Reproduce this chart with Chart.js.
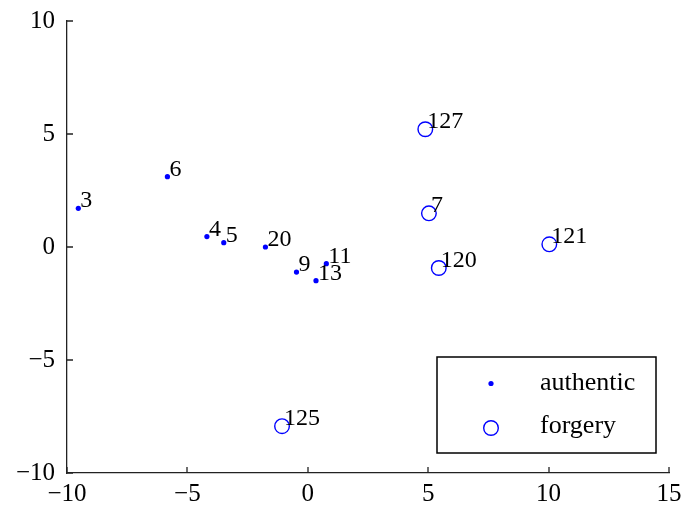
<!DOCTYPE html>
<html>
<head>
<meta charset="utf-8">
<script src="https://cdn.jsdelivr.net/npm/chart.js@4/dist/chart.umd.min.js"></script>
<style>
  html, body { margin: 0; padding: 0; background: #fff; }
  canvas { display: block; }
</style>
</head>
<body>
<canvas id="c" width="684" height="511"></canvas>
<script>
// ---- data ----
const authenticIds = ['3', '6', '4', '5', '20', '9', '11', '13'];
const authenticX = [-9.53, -5.83, -4.19, -3.49, -1.76, -0.47, 0.77, 0.34];
const authenticY = [1.71, 3.11, 0.46, 0.19, 0.00, -1.11, -0.74, -1.49];

const forgeryIds = ['127', '7', '121', '120', '125'];
const forgeryX = [4.88, 5.03, 10.03, 5.44, -1.07];
const forgeryY = [5.21, 1.49, 0.12, -0.93, -7.93];

const seriesNames = ['authentic', 'forgery'];
const xTicks = [-10, -5, 0, 5, 10, 15];
const yTicks = [-10, -5, 0, 5, 10];

const FONT = '"Liberation Serif", "Times New Roman", serif';
const BLUE = '#0000ff';

function toPoints(xs, ys) { return xs.map((x, i) => ({ x: x, y: ys[i] })); }
function fmt(v) { return String(v).replace('-', '\u2212'); }

const extras = {
  id: 'extras',
  afterDatasetsDraw(chart) {
    const ctx = chart.ctx;
    const xs = chart.scales.x, ys = chart.scales.y;
    const area = chart.chartArea;
    ctx.save();
    // inward tick marks
    ctx.strokeStyle = '#222';
    ctx.lineWidth = 1.3;
    ctx.beginPath();
    xTicks.forEach(v => {
      const px = Math.round(xs.getPixelForValue(v));
      ctx.moveTo(px, area.bottom);
      ctx.lineTo(px, area.bottom - 6);
    });
    yTicks.forEach(v => {
      const py = Math.round(ys.getPixelForValue(v));
      ctx.moveTo(area.left, py);
      ctx.lineTo(area.left + 6, py);
    });
    ctx.stroke();

    // point labels
    ctx.fillStyle = '#000';
    ctx.font = '24px ' + FONT;
    ctx.textAlign = 'left';
    ctx.textBaseline = 'alphabetic';
    const drawLabels = (dsIndex, ids) => {
      const meta = chart.getDatasetMeta(dsIndex);
      meta.data.forEach((el, i) => {
        ctx.fillText(ids[i], el.x + 2, el.y - 1);
      });
    };
    drawLabels(0, authenticIds);
    drawLabels(1, forgeryIds);

    // legend box
    const bw = 219, bh = 96;
    const bx = area.right - 13 - bw;
    const by = area.bottom - 20 - bh;
    ctx.fillStyle = '#fff';
    ctx.fillRect(bx, by, bw, bh);
    ctx.strokeStyle = '#000';
    ctx.lineWidth = 1.5;
    ctx.strokeRect(bx, by, bw, bh);
    const mx = bx + 54;
    const rowY = [by + 26.5, by + 71];
    // authentic marker
    ctx.fillStyle = BLUE;
    ctx.beginPath();
    ctx.arc(mx, rowY[0], 2.6, 0, Math.PI * 2);
    ctx.fill();
    // forgery marker
    ctx.strokeStyle = BLUE;
    ctx.lineWidth = 1.4;
    ctx.beginPath();
    ctx.arc(mx, rowY[1], 7.3, 0, Math.PI * 2);
    ctx.stroke();
    ctx.fillStyle = '#000';
    ctx.font = '26px ' + FONT;
    ctx.textBaseline = 'alphabetic';
    ctx.fillText(seriesNames[0], bx + 103, rowY[0] + 6.5);
    ctx.fillText(seriesNames[1], bx + 103, rowY[1] + 5);
    ctx.restore();
  }
};

new Chart(document.getElementById('c'), {
  type: 'scatter',
  data: {
    datasets: [
      {
        label: seriesNames[0],
        data: toPoints(authenticX, authenticY),
        pointStyle: 'circle',
        pointRadius: 2.6,
        backgroundColor: BLUE,
        borderColor: BLUE,
        borderWidth: 0
      },
      {
        label: seriesNames[1],
        data: toPoints(forgeryX, forgeryY),
        pointStyle: 'circle',
        pointRadius: 7.3,
        backgroundColor: 'rgba(0,0,0,0)',
        borderColor: BLUE,
        borderWidth: 1.4
      }
    ]
  },
  options: {
    responsive: false,
    animation: false,
    devicePixelRatio: 1,
    layout: { padding: { top: 21, right: 15, left: 0, bottom: 0 } },
    plugins: {
      legend: { display: false },
      tooltip: { enabled: false }
    },
    scales: {
      x: {
        type: 'linear',
        min: -10, max: 15,
        afterBuildTicks: s => { s.ticks = xTicks.map(v => ({ value: v })); },
        afterFit: s => { s.height = 38; s.paddingLeft = 0; s.paddingRight = 0; },
        ticks: {
          callback: v => fmt(v),
          color: '#000',
          font: { family: FONT, size: 25 },
          padding: 6,
          maxRotation: 0
        },
        grid: { display: true, drawOnChartArea: false, drawTicks: false },
        border: { display: true, color: '#222', width: 1.3 }
      },
      y: {
        type: 'linear',
        min: -10, max: 10,
        afterBuildTicks: s => { s.ticks = yTicks.map(v => ({ value: v })); },
        afterFit: s => { s.width = 67; s.paddingTop = 0; s.paddingBottom = 0; },
        ticks: {
          callback: v => fmt(v),
          color: '#000',
          font: { family: FONT, size: 25 },
          padding: 12
        },
        grid: { display: true, drawOnChartArea: false, drawTicks: false },
        border: { display: true, color: '#222', width: 1.3 }
      }
    }
  },
  plugins: [extras]
});
</script>
</body>
</html>
